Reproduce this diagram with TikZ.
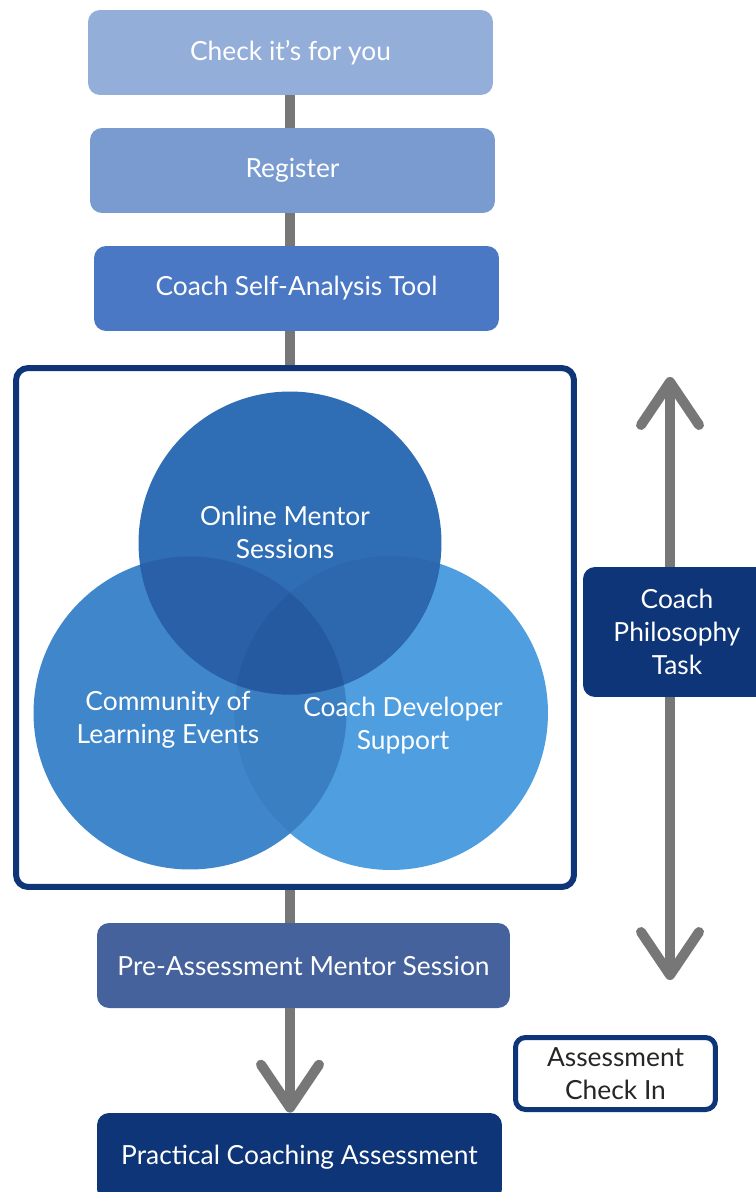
\documentclass[tikz,border=0pt]{standalone}
\usepackage{fontspec}
\setmainfont{Lato}
\usetikzlibrary{arrows.meta,positioning}

\definecolor{chkblue}{HTML}{94AEDA}
\definecolor{regblue}{HTML}{7A9BD0}
\definecolor{toolblue}{HTML}{4A78C4}
\definecolor{preblue}{HTML}{45629C}
\definecolor{navy}{HTML}{0E3577}
\definecolor{linkgray}{HTML}{777777}
\definecolor{cleft}{HTML}{3F86CA}
\definecolor{cright}{HTML}{4E9EE0}
\definecolor{cboth}{HTML}{3B7FC3}
\definecolor{ctop}{HTML}{2F6DB4}
\definecolor{ctl}{HTML}{2960A8}
\definecolor{ctr}{HTML}{2D68AF}
\definecolor{call}{HTML}{2559A0}

\begin{document}
\begin{tikzpicture}[x=0.02cm,y=-0.02cm,
  stage/.style={rounded corners=0.24cm, minimum width=8.1cm, minimum height=1.7cm,
    inner sep=0, text=white, font=\fontsize{15}{19}\selectfont},
  txt/.style={text=white, align=center, font=\fontsize{15}{18.8}\selectfont},
  link/.style={draw=linkgray, line width=0.2cm},
  arr/.style={link, -{Straight Barb[length=0.86cm,width=1.16cm,round]}}]

  \fill[white] (0,0) rectangle (756,1192);
  \useasboundingbox (0,0) rectangle (756,1192);
  \coordinate (spine) at (290,0);

  % steps down the left
  \node[stage, fill=chkblue] (chk) at (290.5,52.5) {Check it{\char"0027}s for you};
  \node[stage, fill=regblue] (reg) at (292.5,170.5) {Register};
  \node[stage, fill=toolblue] (tool) at (296.5,288.5) {Coach Self-Analysis Tool};
  \node[draw=navy, fill=white, line width=0.12cm, rounded corners=0.24cm,
    minimum width=11.16cm, minimum height=10.38cm] (frame) at (295,627.5) {};

  % venn of the three strands
  \coordinate (ctrT) at (290,543);
  \coordinate (ctrL) at (190,713);
  \coordinate (ctrR) at (391,713);
  \fill[cleft] (ctrL) circle [radius=3.13cm];
  \fill[cright] (ctrR) circle [radius=3.14cm];
  \begin{scope}
    \clip (ctrL) circle [radius=3.13cm];
    \fill[cboth] (ctrR) circle [radius=3.14cm];
  \end{scope}
  \fill[ctop] (ctrT) circle [radius=3.03cm];
  \begin{scope}
    \clip (ctrT) circle [radius=3.03cm];
    \fill[ctl] (ctrL) circle [radius=3.13cm];
    \fill[ctr] (ctrR) circle [radius=3.14cm];
    \clip (ctrL) circle [radius=3.13cm];
    \fill[call] (ctrR) circle [radius=3.14cm];
  \end{scope}
  \node[txt] (mentor) at (285,532) {Online Mentor\\Sessions};
  \node[txt] (events) at (168,720) {Community of\\Learning Events};
  \node[txt] (support) at (403,726) {Coach Developer\\Support};

  \node[stage, fill=preblue, minimum width=8.26cm] (pre) at (303.5,965.5) {Pre-Assessment Mentor Session};
  \node[stage, fill=navy, minimum height=1.76cm] (prac) at (299.5,1157) {Practical Coaching Assessment};

  \draw[link] (chk.south -| spine) -- (reg.north -| spine);
  \draw[link] (reg.south -| spine) -- (tool.north -| spine);
  \draw[link] (tool.south -| spine) -- (frame.north -| spine);
  \draw[link] (frame.south -| spine) -- (pre.north -| spine);
  \draw[arr] (pre.south -| spine) -- (prac.north -| spine);

  % right hand side
  \coordinate (phtop) at (670,377);
  \coordinate (phbot) at (670,980);
  \node[stage, fill=navy, align=center, minimum width=3.76cm, minimum height=2.6cm,
    font=\fontsize{15}{18.8}\selectfont] (phil) at (677,632) {Coach\\Philosophy\\Task};
  \draw[arr] (phil.north -| phtop) -- (phtop);
  \draw[arr] (phil.south -| phbot) -- (phbot);
  \node[draw=navy, fill=white, line width=0.1cm, rounded corners=0.2cm, align=center,
    minimum width=4cm, minimum height=1.44cm, inner sep=0, text=black!85,
    font=\fontsize{15}{18.8}\selectfont] (check) at (615.5,1073.5) {Assessment\\Check In};
\end{tikzpicture}
\end{document}
